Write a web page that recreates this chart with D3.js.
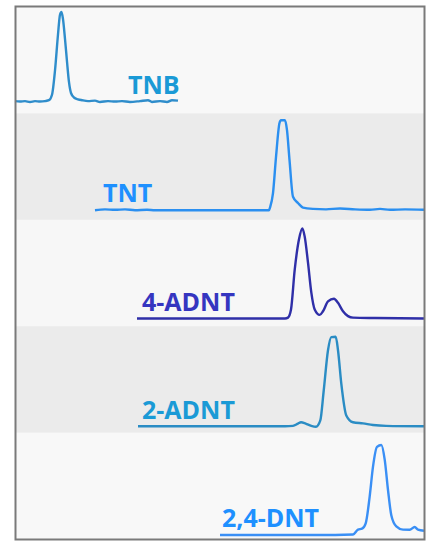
<!DOCTYPE html>
<html>
<head>
<meta charset="utf-8">
<script src="https://cdn.jsdelivr.net/npm/d3@7"></script>
<style>
  body { margin: 0; background: #ffffff; }
</style>
</head>
<body>
<script>
// compounds, top to bottom
var compounds = ["TNB", "TNT", "4-ADNT", "2-ADNT", "2,4-DNT"];

// chromatogram traces: [retention time, relative intensity %]
var tnb = [[0,1],[5,0.5],[10,1],[15,0],[20,1],[25,0.5],[30,1],[34,2],[37,8],[40,35],[43,75],[45,97],[46.5,100],[48,92],[50,70],[52,45],[54,22],[56,10],[59,5],[63,3],[67,2],[73,1],[80,1.5],[85,0],[93,1],[100,0.5],[107,1],[115,0],[125,1],[133,2],[137,0],[145,1],[152,0],[157,2],[163,1.5]];
var tnt = [[80,0],[90,1],[100,0.5],[110,1],[120,0],[132,0.5],[140,0],[160,0],[200,0],[240,0],[254,0],[255,3],[258,19],[261,59],[264.5,97],[266,100],[270,100],[272,89],[274.5,56],[278,15],[283,8],[288,3],[298,1.5],[311,1],[325,2],[340,1],[355,0.5],[365,1.5],[375,0.5],[390,1],[409,0.5]];
var adnt4 = [[122,0],[160,0],[200,0],[240,0],[270,0],[273,1],[276,10],[279.7,54],[284,88],[287.3,100],[289.7,91],[293,62],[296.3,29],[299.7,10],[304.7,4],[308,8],[313,19],[319,22],[323,17.4],[328,8],[333,2.6],[338,1],[360,0.5],[409,0]];
var adnt2 = [[123,0.5],[160,0.5],[200,0.5],[240,0.5],[270,0.5],[278,1],[283,3.5],[286,5],[290.7,3.5],[296.3,1],[301,0],[305.3,7],[308.7,40],[313,85],[316.3,99.6],[320.7,100],[323,85],[326.3,48],[331.3,12.6],[338,5],[348,3.7],[358,2],[371,1],[409,0.5]];
var dnt24 = [[205,0],[240,0],[280,0],[320,0],[338,0.5],[343,6],[347,7],[350.7,13],[354.7,43],[358,76],[362,98],[366.3,100],[369.7,83.7],[373,50],[376.3,22],[381.3,9.6],[388,6],[394.7,5.9],[399.7,8.9],[403,6],[409,4.8]];
var traces = [tnb, tnt, adnt4, adnt2, dnt24];

// styling
var lineColors = ["#2f8dcb", "#2b8ff0", "#2f2fa8", "#2a8cc4", "#3a8ff5"];
var labelColors = ["#1a9ad6", "#1e90ff", "#3535c0", "#1a9ad6", "#1e90ff"];
var panelFills = ["#f8f8f8", "#ebebeb", "#f7f7f7", "#ebebeb", "#f8f8f8"];
var labelX = [128, 103, 142, 142, 222];

var svg = d3.select("body").append("svg").attr("width", 426).attr("height", 542);

var x = d3.scaleLinear().domain([0, 409]).range([15, 424]);
var y = d3.scaleLinear().domain([0, 100]).range([0, -90]);
var band = d3.scaleBand().domain(compounds).range([7, 539]);
var base = d3.scalePoint().domain(compounds).range([102, 535]);

svg.selectAll("rect.panel")
    .data(compounds)
    .enter().append("rect")
    .attr("class", "panel")
    .attr("x", 16)
    .attr("y", function(d) { return band(d); })
    .attr("width", 408)
    .attr("height", band.bandwidth() + 0.5)
    .attr("fill", function(d, i) { return panelFills[i]; });

var line = d3.line()
    .x(function(d) { return x(d[0]); })
    .y(function(d) { return y(d[1]); })
    .curve(d3.curveMonotoneX);

for (var i = 0; i < compounds.length; i++) {
    var g = svg.append("g").attr("transform", "translate(0," + base(compounds[i]) + ")");
    g.append("path")
        .datum(traces[i])
        .attr("d", line)
        .attr("fill", "none")
        .attr("stroke", lineColors[i])
        .attr("stroke-width", 2.4)
        .attr("stroke-linejoin", "round");
    g.append("text")
        .text(compounds[i])
        .attr("x", labelX[i])
        .attr("y", -8)
        .attr("fill", labelColors[i])
        .attr("font-family", "'Open Sans', sans-serif")
        .attr("font-weight", "bold")
        .attr("font-size", 25);
}

// frame
svg.append("rect")
    .attr("x", 15.5).attr("y", 6.5)
    .attr("width", 409).attr("height", 533)
    .attr("fill", "none")
    .attr("stroke", "#7a7a7a")
    .attr("stroke-width", 2);
</script>
</body>
</html>
